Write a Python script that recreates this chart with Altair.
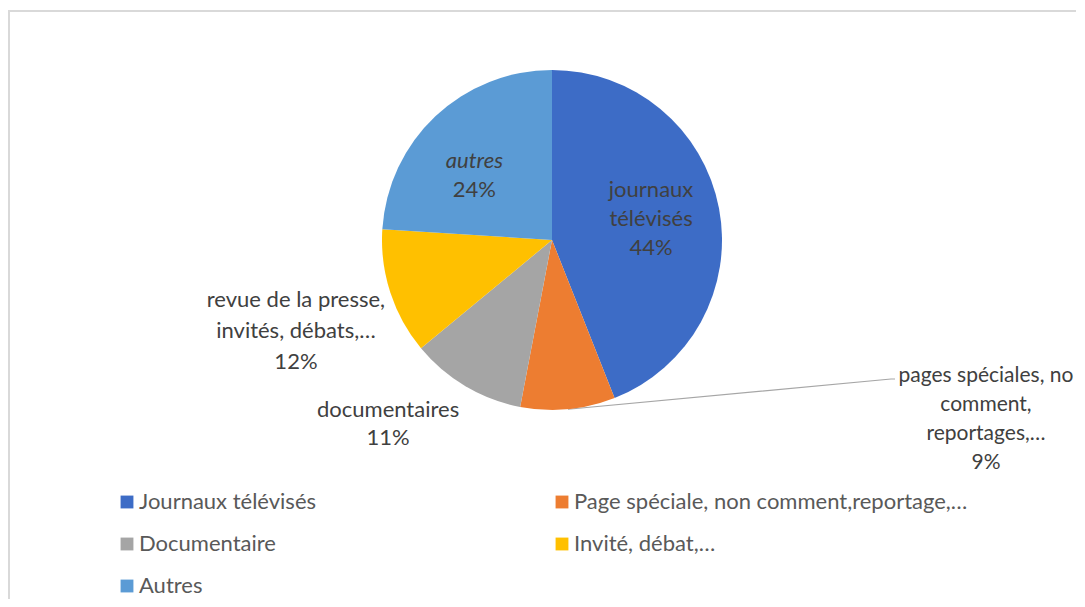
import math
import altair as alt
import pandas as pd

# ---- data ----
categories = [
    "Journaux télévisés",
    "Page spéciale, non comment,reportage,…",
    "Documentaire",
    "Invité, débat,…",
    "Autres",
]
values = [44, 9, 11, 12, 24]
slice_names = [
    "journaux\ntélévisés",
    "pages spéciales, no\ncomment,\nreportages,…",
    "documentaires",
    "revue de la presse,\ninvités, débats,…",
    "autres",
]
colors = ["#3D6CC6", "#ED7D31", "#A5A5A5", "#FFC000", "#5B9BD5"]

# ---- layout (not data) ----
W, H = 1048, 464
PAD_L = 20
PIE_R = 170
# anchor of the first text line, relative to the slice's middle angle
label_r = [111, 454.8, 236, 263, 101]
label_dtheta_deg = [-16.0, -67.2, 13.4, 4.8, -7.0]
label_line_h = [29, 29, 28, 31, 29]
label_fs = [22, 21, 22, 22, 22]
FONT = "Lato"
FS = 22

total = sum(values)
rows = []
cum = 0
for i, (c, v, n) in enumerate(zip(categories, values, slice_names)):
    mid = (cum + v / 2) / total * 2 * math.pi
    cum += v
    pct = f"{round(v / total * 100)}%"
    rows.append({
        "cat": c, "value": v, "idx": i, "name": n, "pct": pct,
        "full": n + "\n" + pct,
        "mid": mid,
        "lab_theta": mid + math.radians(label_dtheta_deg[i]),
        "lab_r": label_r[i],
    })
df = pd.DataFrame(rows)

cx, cy = W / 2, H / 2

base = alt.Chart(df)

pie = base.mark_arc(outerRadius=PIE_R, strokeWidth=0).encode(
    theta=alt.Theta("value:Q", stack=True),
    order=alt.Order("idx:Q"),
    color=alt.Color(
        "cat:N",
        scale=alt.Scale(domain=categories, range=colors),
        sort=categories,
        legend=alt.Legend(
            title=None,
            orient="none",
            direction="horizontal",
            legendX=88,
            legendY=483,
            columns=2,
            gridAlign="all",
            columnPadding=18,
            rowPadding=20,
            symbolType="square",
            symbolSize=165,
            symbolStrokeWidth=0,
            labelFont=FONT,
            labelFontSize=FS,
            labelColor="#595959",
            labelLimit=700,
            labelOffset=1,
        ),
    ),
)

text_common = dict(font=FONT, color="#404040", lineBreak="\n",
                   align="center", baseline="middle")

label_layers = []
for i, c in enumerate(categories):
    sub = base.transform_filter(alt.datum.cat == c)
    enc = dict(
        theta=alt.Theta("lab_theta:Q", scale=None, stack=False),
        radius=alt.Radius("lab_r:Q", scale=None),
    )
    if c == "Autres":
        label_layers.append(sub.mark_text(fontStyle="italic", dy=-14.5, lineHeight=29,
                                          fontSize=label_fs[i], **text_common)
                            .encode(text="name:N", **enc))
        label_layers.append(sub.mark_text(dy=14.5, lineHeight=29, fontSize=label_fs[i], **text_common)
                            .encode(text="pct:N", **enc))
    else:
        label_layers.append(sub.mark_text(lineHeight=label_line_h[i], fontSize=label_fs[i], **text_common)
                            .encode(text="full:N", **enc))

# leader line for the small slice label
small = df.iloc[1]
sx = cx + PIE_R * math.sin(small["mid"])
sy = cy - PIE_R * math.cos(small["mid"])
leader_df = pd.DataFrame({
    "x": [sx, 863, 867],
    "y": [sy, 371, 371],
    "o": [0, 1, 2],
})
leader = alt.Chart(leader_df).mark_line(color="#A6A6A6", strokeWidth=1.2).encode(
    x=alt.X("x:Q", scale=None),
    y=alt.Y("y:Q", scale=None),
    order="o:Q",
)

frame = alt.Chart(pd.DataFrame({"a": [0]})).mark_rect(
    filled=False, stroke="#D9D9D9", strokeWidth=2
).encode(
    x=alt.value(-19), x2=alt.value(1300), y=alt.value(3), y2=alt.value(900)
)

chart = alt.layer(frame, leader, pie, *label_layers).properties(
    width=W, height=H,
    background="white",
    autosize=alt.AutoSizeParams(type="none"),
    padding={"left": PAD_L, "top": 0, "right": 0, "bottom": 127},
).configure_view(stroke=None)

chart.save("out.html", embed_options={"renderer": "svg", "actions": False})
